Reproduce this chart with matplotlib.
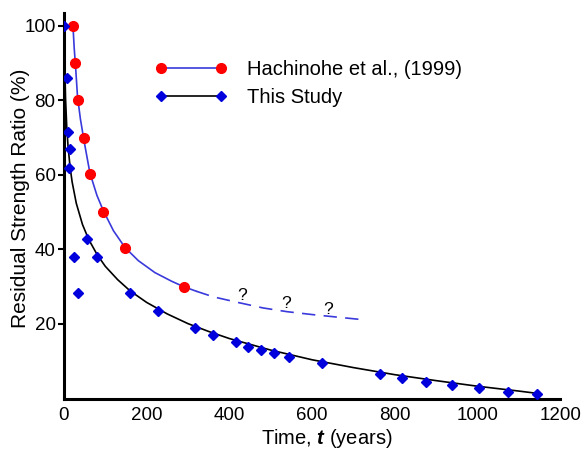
import matplotlib
matplotlib.use("Agg")
import matplotlib.pyplot as plt
from matplotlib.lines import Line2D

plt.rcParams["font.family"] = ["Liberation Sans", "DejaVu Sans"]
plt.rcParams["mathtext.fontset"] = "custom"
plt.rcParams["mathtext.bf"] = "Liberation Sans:bold:italic"

# Hachinohe et al. (1999) data points
hach_t = [22, 28, 33, 49, 63, 95, 148, 290]
hach_r = [100, 90, 80, 70, 60.3, 50, 40.3, 30]

# This study data points
study_t = [0, 6.5, 9, 14.5, 12, 25, 33, 56, 79, 161, 227, 317, 361, 416, 445,
           476, 508, 544, 624, 764, 818, 875, 938, 1004, 1074, 1144]
study_r = [100, 86, 71.5, 67, 62, 38, 28.4, 42.8, 38, 28.4, 23.5, 18.8, 17, 15.2, 13.9,
           13, 12.2, 11.1, 9.5, 6.6, 5.5, 4.4, 3.6, 2.8, 1.8, 1.2]

# fitted curves
hach_fit_t = [22, 25, 28, 33, 40, 49, 63, 80, 95, 120, 148, 180, 220, 260, 290, 320]
hach_fit_r = [100, 94, 89.5, 81, 75, 69, 60.5, 54.5, 50.5, 45, 40.5, 37, 33.8, 31.5, 30, 28.8]
hach_ext_t = [320, 361, 420, 482, 540, 603, 665, 728]
hach_ext_r = [28.8, 27.3, 25.8, 24.3, 23.3, 22.5, 21.8, 21.1]

study_fit_t = [0, 1, 2, 4, 7, 10, 15, 20, 30, 45, 60, 80, 100, 130, 160, 200, 250, 300,
               350, 400, 500, 600, 700, 800, 900, 1000, 1100, 1150]
study_fit_r = [100, 100, 90, 80.6, 72.8, 67.8, 62.1, 58.1, 52.4, 46.7, 42.7, 38.7, 35.5,
               31.9, 28.9, 25.8, 22.7, 20.1, 18.0, 16.1, 13.0, 10.4, 8.3, 6.4, 4.8, 3.3,
               2.0, 1.3]

# question marks on the extrapolated part
q_t = [431, 537, 639]
q_r = [27.6, 25.6, 23.8]

red = "#ff0000"
blue = "#0000dd"
line_blue = "#3a3adc"

fig = plt.figure(figsize=(5.86, 4.5), dpi=100)
ax = fig.add_axes([0.109, 0.1144, 0.847, 0.857])

ax.plot(hach_fit_t, hach_fit_r, color=line_blue, lw=1.2)
ax.plot(hach_ext_t, hach_ext_r, color=line_blue, lw=1.2, dashes=(8, 5))
ax.plot(study_fit_t, study_fit_r, color="black", lw=1.2)
ax.plot(hach_t, hach_r, "o", color=red, ms=7, zorder=3)
ax.plot(study_t, study_r, "D", color=blue, ms=5.5, zorder=3)

for t, r in zip(q_t, q_r):
    ax.text(t, r, "?", fontsize=12.5, ha="center", va="center")

ax.set_xlim(0, 1200)
ax.set_ylim(0, 103.5)
ax.set_xticks([0, 200, 400, 600, 800, 1000, 1200])
ax.set_yticks([20, 40, 60, 80, 100])
ax.tick_params(axis="both", labelsize=13.5)
ax.tick_params(axis="x", length=0, pad=6)
ax.tick_params(axis="y", length=4, width=1.5, pad=2)
for s in ["top", "right"]:
    ax.spines[s].set_visible(False)
for s in ["left", "bottom"]:
    ax.spines[s].set_linewidth(2.2)

ax.set_xlabel(r"Time, $\mathbf{t}$ (years)", fontsize=14.5, labelpad=2)
ax.xaxis.label.set_x(0.53)
ax.set_ylabel("Residual Strength Ratio (%)", fontsize=15)
ax.yaxis.set_label_coords(-0.068, 0.52)

handles = [
    Line2D([], [], color=line_blue, lw=1.2, marker="o", mfc=red, mec=red, ms=7),
    Line2D([], [], color="black", lw=1.2, marker="D", mfc=blue, mec=blue, ms=5.5),
]
ax.legend(handles, ["Hachinohe et al., (1999)", "This Study"], loc="upper left",
          bbox_to_anchor=(0.2645, 0.866), bbox_transform=fig.transFigure,
          frameon=False, fontsize=14.5, numpoints=2, handlelength=3.6,
          handletextpad=0.95, labelspacing=0.42, borderpad=0, borderaxespad=0)

fig.savefig("out.png", dpi=100)
